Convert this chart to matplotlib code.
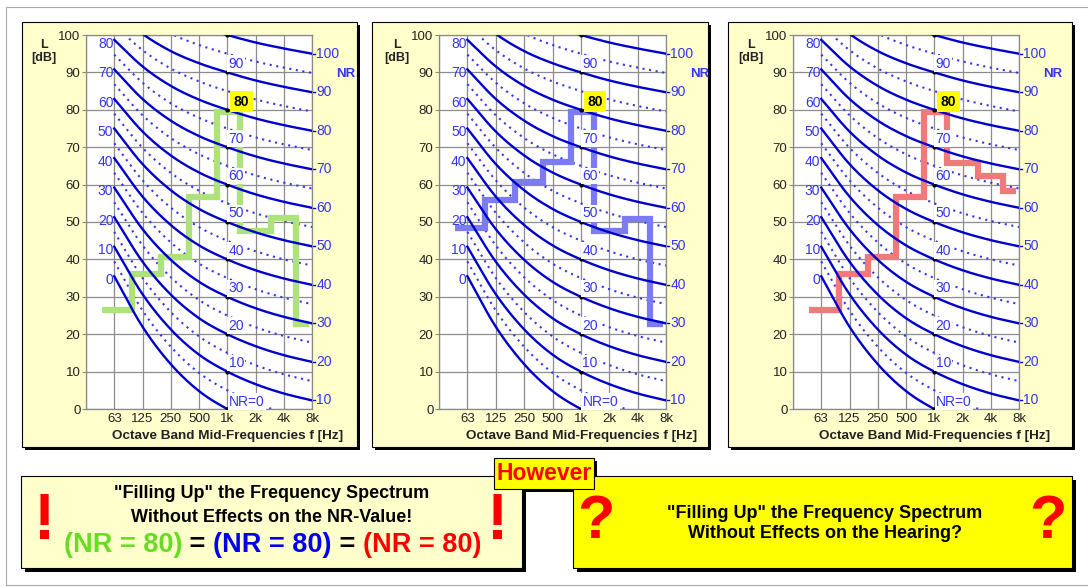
import matplotlib
matplotlib.use("Agg")
import matplotlib.pyplot as plt
import matplotlib.patches as patches
import numpy as np

plt.rcParams["font.family"] = ["Liberation Sans Narrow", "Liberation Sans", "DejaVu Sans"]

# Octave bands and NR curve coefficients (L = a + b * NR)
bands = ["63", "125", "250", "500", "1k", "2k", "4k", "8k"]
nr_a = [35.5, 22.0, 12.0, 4.8, 0.0, -3.5, -6.1, -8.0]
nr_b = [0.790, 0.870, 0.930, 0.974, 1.000, 1.015, 1.025, 1.030]
nr_solid = [0, 10, 20, 30, 40, 50, 60, 70, 80, 90, 100]
nr_dotted = [5, 15, 25, 35, 45, 55, 65, 75, 85, 95]
nr_left_labels = [0, 10, 20, 30, 40, 50, 60, 70, 80]
nr_mid_labels = [10, 20, 30, 40, 50, 60, 70, 90]
nr_right_labels = [10, 20, 30, 40, 50, 60, 70, 80, 90, 100]

# Measured spectra (band edges in octave steps from 63 Hz, levels in dB)
step_edges = [-0.45, 0.63, 1.67, 2.66, 3.65, 4.45, 5.55, 6.42, 6.9]
green_levels = [26.6, 36.2, 40.7, 56.8, 79.3, 47.7, 51.0, 22.7]
blue_levels = [48.5, 56.0, 60.7, 66.1, 79.3, 47.7, 50.8, 22.7]
red_levels = [26.5, 36.1, 40.6, 56.8, 79.3, 65.8, 62.4, 58.2]

W, H = 1088, 587
BLUE = "#0000cc"
LBLUE = "#3535f0"
FAM = ["Liberation Sans", "DejaVu Sans"]


def catmull(xk, yk, xs):
    # smooth cubic Hermite curve through the tabulated points
    xk = np.asarray(xk, float)
    yk = np.asarray(yk, float)
    m = np.gradient(yk, xk)
    out = []
    for x in xs:
        i = min(max(int(np.floor(x)), 0), len(xk) - 2)
        t = x - xk[i]
        h00 = 2 * t**3 - 3 * t**2 + 1
        h10 = t**3 - 2 * t**2 + t
        h01 = -2 * t**3 + 3 * t**2
        h11 = t**3 - t**2
        out.append(h00 * yk[i] + h10 * m[i] + h01 * yk[i + 1] + h11 * m[i + 1])
    return np.array(out)


idx = np.arange(len(bands))
xs = np.linspace(0, 7, 300)
a_s = catmull(idx, nr_a, xs)
b_s = catmull(idx, nr_b, xs)


def nr_level(nr, i):
    return nr_a[i] + nr_b[i] * nr


def shadow_box(ax, x, y, w, h, color, off=4, lw=0.8):
    ax.add_patch(patches.Rectangle((x + off, y + off), w, h, facecolor="black",
                                   edgecolor="none", zorder=1))
    ax.add_patch(patches.Rectangle((x, y), w, h, facecolor=color,
                                   edgecolor="black", lw=lw, zorder=2))


def nr_chart(fig, rect, levels, color):
    x0, y0, w, h = rect
    ax = fig.add_axes([x0 / W, 1 - (y0 + h) / H, w / W, h / H])
    ax.set_xlim(-1, 7)
    ax.set_ylim(0, 100)
    ax.set_facecolor("white")
    ax.set_xticks(range(-1, 8))
    ax.set_xticklabels([""] + bands, fontsize=9.5, color="#222222", family=FAM)
    ax.set_yticks(range(0, 101, 10))
    ax.set_yticklabels([str(v) for v in range(0, 101, 10)], fontsize=9.5,
                       color="#222222", family=FAM)
    ax.tick_params(axis="x", length=0, pad=3)
    ax.tick_params(axis="y", length=3, color="#888888", pad=1)
    ax.grid(True, color="#8c8c8c", lw=0.9, zorder=0)
    for s in ax.spines.values():
        s.set_color("#888888")
        s.set_linewidth(0.9)

    for nr in nr_dotted:
        ax.plot(xs, a_s + b_s * nr, color=LBLUE, lw=1.5, ls=(0, (1, 2.2)), zorder=2)
    for nr in nr_solid:
        ax.plot(xs, a_s + b_s * nr, color=BLUE, lw=1.7, zorder=3)
        ax.plot(4, nr, "o", ms=2, color="black", zorder=4)

    ax.stairs(levels, step_edges, baseline=None, color=color, lw=4.5, zorder=2.5)

    for nr in nr_left_labels:
        ax.text(-0.03, nr_level(nr, 0) - 1, str(nr), ha="right", va="center",
                fontsize=10, color=LBLUE, family=FAM, zorder=5)
    for nr in nr_mid_labels:
        ax.text(4.32, nr + 2.3, str(nr), ha="center", va="center", fontsize=10,
                color=LBLUE, family=FAM, zorder=5,
                bbox=dict(boxstyle="square,pad=0.1", fc="white", ec="none"))
    ax.text(4.06, 2.0, "NR=0", ha="left", va="center", fontsize=10, color=LBLUE,
            family=FAM, zorder=5,
            bbox=dict(boxstyle="square,pad=0.1", fc="white", ec="none"))
    ax.text(4.5, 82.2, "80", ha="center", va="center", fontsize=10, weight="bold",
            color="black", family=FAM, zorder=6,
            bbox=dict(boxstyle="square,pad=0.25", fc="#ffff00", ec="none"))
    for nr in nr_right_labels:
        yv = nr_level(nr, 7)
        ax.plot([7, 7.12], [yv, yv], color=BLUE, lw=1.0, clip_on=False)
        ax.text(7.15, yv, str(nr), ha="left", va="center", fontsize=10,
                color=LBLUE, family=FAM, clip_on=False)
    ax.text(8.2, 89.5, "NR", ha="center", va="center", fontsize=9.5, weight="bold",
            color=LBLUE, family=FAM)
    ax.text(-2.5, 95.5, "L\n[dB]", ha="center", va="center", fontsize=9,
            weight="bold", color="#222222", family=FAM, linespacing=1.1)
    ax.text(8.1, -7.3, "Octave Band Mid-Frequencies f [Hz]", ha="right", va="center",
            fontsize=9.7, weight="bold", color="#222222", family=FAM)
    return ax


fig = plt.figure(figsize=(W / 100, H / 100), dpi=100)
bg = fig.add_axes([0, 0, 1, 1])
bg.set_xlim(0, W)
bg.set_ylim(H, 0)
bg.axis("off")

# outer frame
bg.plot([6, 6], [7, 585], color="#aaaaaa", lw=0.8)
bg.plot([6, W], [7, 7], color="#aaaaaa", lw=0.8)
bg.plot([6, W], [585, 585], color="#aaaaaa", lw=0.8)

# chart panels
panel_boxes = [(22, 22, 335, 425), (372, 22, 336, 425), (728, 22, 344, 425)]
plot_rects = [(86, 35, 226, 374), (439, 35, 227, 374), (793, 35, 226, 374)]
spectra = [(green_levels, "#aee27a"), (blue_levels, "#7c7cf0"), (red_levels, "#f07a7a")]
for box in panel_boxes:
    shadow_box(bg, *box, color="#ffffcc", off=3)
for rect, (lev, col) in zip(plot_rects, spectra):
    nr_chart(fig, rect, lev, col)

# bottom boxes
shadow_box(bg, 21, 476, 501, 92, "#ffffcc", off=4)
shadow_box(bg, 573, 476, 499, 92, "#ffff00", off=4)
shadow_box(bg, 494, 458, 100, 31, "#ffff00", off=3)

bg.text(544, 474, "However", ha="center", va="center", fontsize=16.5, weight="bold",
        color="#ff0000")

bg.text(272, 494, '"Filling Up" the Frequency Spectrum', ha="center", va="center",
        fontsize=13, weight="bold", color="black")
bg.text(272, 517, "Without Effects on the NR-Value!", ha="center", va="center",
        fontsize=13, weight="bold", color="black")
parts = [("(NR = 80)", "#66dd22"), (" = ", "black"), ("(NR = 80)", "#0000ee"),
         (" = ", "black"), ("(NR = 80)", "#ff0000")]
x_cur = 64
fig.canvas.draw()
for txt, col in parts:
    t = bg.text(x_cur, 545, txt, ha="left", va="center", fontsize=19.5, weight="bold",
                color=col)
    bb = t.get_window_extent(renderer=fig.canvas.get_renderer())
    x_cur += bb.width
bg.text(45, 522, "!", ha="center", va="center", fontsize=46, weight="bold", color="#ff0000")
bg.text(498, 522, "!", ha="center", va="center", fontsize=46, weight="bold", color="#ff0000")

bg.text(825, 513, '"Filling Up" the Frequency Spectrum', ha="center", va="center",
        fontsize=13, weight="bold", color="black")
bg.text(825, 533, "Without Effects on the Hearing?", ha="center", va="center",
        fontsize=13, weight="bold", color="black")
bg.text(596, 522, "?", ha="center", va="center", fontsize=44, weight="bold", color="#ff0000")
bg.text(1048, 522, "?", ha="center", va="center", fontsize=44, weight="bold", color="#ff0000")

fig.savefig("out.png", dpi=100)
